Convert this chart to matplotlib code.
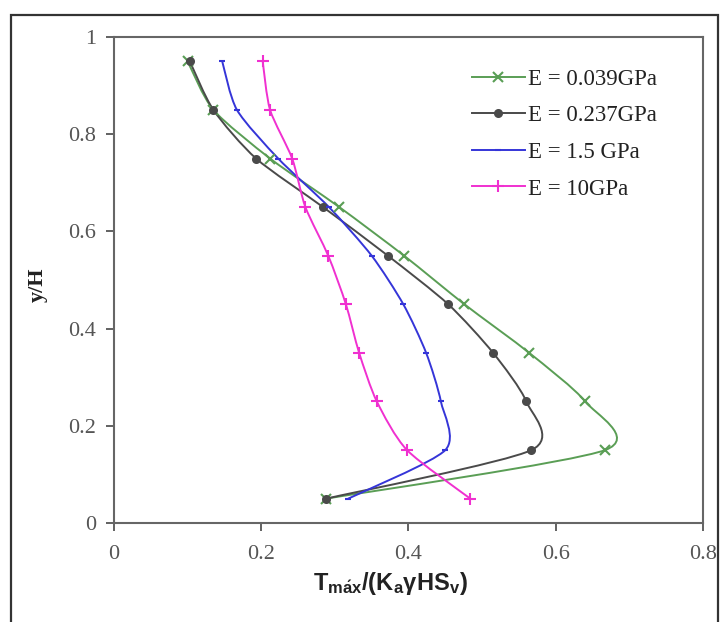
import matplotlib
matplotlib.use("Agg")
import matplotlib.pyplot as plt
from matplotlib.path import Path
from matplotlib.patches import PathPatch, Rectangle
from matplotlib.lines import Line2D
import numpy as np

y_h = [0.05, 0.15, 0.25, 0.35, 0.45, 0.55, 0.65, 0.75, 0.85, 0.95]
e_0039 = [0.288, 0.667, 0.640, 0.564, 0.476, 0.394, 0.306, 0.212, 0.135, 0.100]
e_0237 = [0.288, 0.567, 0.560, 0.515, 0.454, 0.372, 0.284, 0.193, 0.135, 0.103]
e_15 = [0.318, 0.450, 0.444, 0.424, 0.393, 0.350, 0.292, 0.223, 0.167, 0.147]
e_10 = [0.484, 0.398, 0.357, 0.333, 0.315, 0.291, 0.260, 0.242, 0.212, 0.202]

labels = ['E = 0.039GPa', 'E = 0.237GPa', 'E = 1.5 GPa', 'E = 10GPa']
colors = ['#5a9e55', '#4a4a4a', '#3535d8', '#f030d0']
markers = ['x', 'o', '_', '+']
msizes = [6.5, 5, 5, 8]
series = [e_0039, e_0237, e_15, e_10]

xticks = [0, 0.2, 0.4, 0.6, 0.8]
xtick_labels = ['0', '0.2', '0.4', '0.6', '0.8']
yticks = [0, 0.2, 0.4, 0.6, 0.8, 1]
ytick_labels = ['0', '0.2', '0.4', '0.6', '0.8', '1']


def smooth_path(xs, ys, k=8.0):
    # smoothed line like excel: bezier segments, control points from neighbours
    pts = np.column_stack([xs, ys])
    n = len(pts)
    verts = [pts[0]]
    codes = [Path.MOVETO]
    for i in range(n - 1):
        p0 = pts[max(i - 1, 0)]
        p1 = pts[i]
        p2 = pts[i + 1]
        p3 = pts[min(i + 2, n - 1)]
        verts += [p1 + (p2 - p0) / k, p2 - (p3 - p1) / k, p2]
        codes += [Path.CURVE4] * 3
    return Path(verts, codes)


plt.rcParams['mathtext.fontset'] = 'custom'
plt.rcParams['mathtext.rm'] = 'Liberation Sans'
plt.rcParams['mathtext.bf'] = 'Liberation Sans:bold'
plt.rcParams['mathtext.it'] = 'Liberation Sans:italic'

fig = plt.figure(figsize=(7.21, 6.22), dpi=100)
ax = fig.add_axes([0.1581, 0.1592, 0.8169, 0.7813])

handles = []
for xs, c, m, ms, lab in zip(series, colors, markers, msizes, labels):
    ax.add_patch(PathPatch(smooth_path(xs, y_h), fill=False, edgecolor=c, lw=1.4))
    ax.plot(xs, y_h, linestyle='none', marker=m, color=c, markersize=ms, markeredgewidth=1.5)
    handles.append(Line2D([], [], color=c, lw=1.4, marker=m, markersize=ms, markeredgewidth=1.5, label=lab))

ax.set_xlim(0, 0.8)
ax.set_ylim(0, 1)
ax.set_xticks(xticks)
ax.set_xticklabels(xtick_labels)
ax.set_yticks(yticks)
ax.set_yticklabels(ytick_labels)

for lab in ax.get_xticklabels() + ax.get_yticklabels():
    lab.set_family('Liberation Serif')
    lab.set_fontsize(16)
    lab.set_color('#555555')
ax.tick_params(direction='out', length=6, width=1.3, color='#555555')
ax.tick_params(axis='x', pad=10)
ax.tick_params(axis='y', pad=7)

for side, sp in ax.spines.items():
    sp.set_color('#666666')
    sp.set_linewidth(1.5)

leg = ax.legend(handles=handles, loc='upper left', bbox_to_anchor=(0.608, 0.935),
                frameon=False, prop={'family': 'Liberation Serif', 'size': 16.5},
                handlelength=2.3, handletextpad=0.15, labelspacing=0.68,
                borderpad=0, borderaxespad=0)
for t in leg.get_texts():
    t.set_color('#222222')

fig.text(0.053, 0.542, 'y/H', rotation=90, ha='center', va='center',
         family='Liberation Serif', fontweight='bold', fontsize=16, color='#222222')
fig.text(0.541, 0.062, r'$\mathbf{T_{m\acute{a}x}/(K_{a}}$γ$\mathbf{HS_{v})}$', ha='center', va='center',
         fontsize=17, color='#222222', family='Liberation Sans', fontweight='bold')

fig.patches.append(Rectangle((11 / 721, -0.01), (718 - 11) / 721, (622 - 15) / 622 + 0.01,
                             transform=fig.transFigure, fill=False, edgecolor='#333333', lw=1.6))

fig.savefig('out.png', dpi=100)
